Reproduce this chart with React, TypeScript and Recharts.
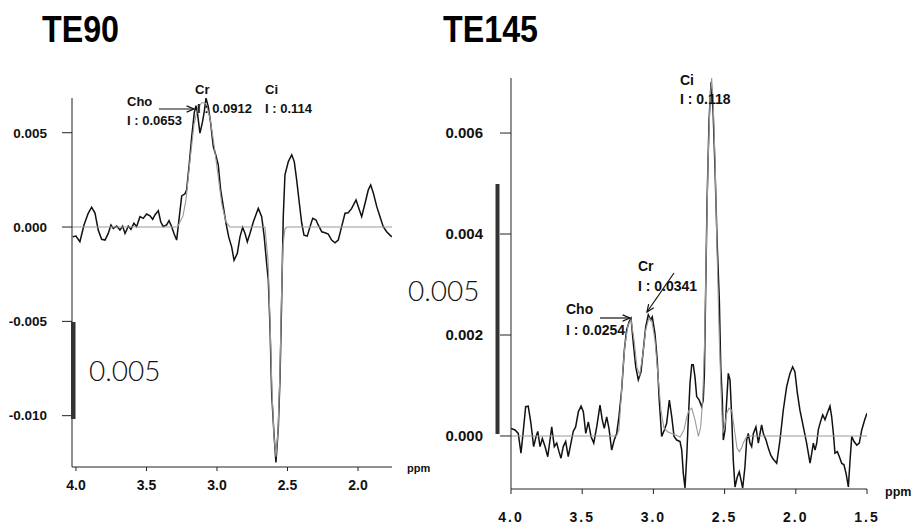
import { LineChart, Line, XAxis, YAxis } from "recharts";

// TE90 panel: measured spectrum (ppm, intensity)
const te90Ppm = [
  4.023, 4.0, 3.972, 3.943, 3.913, 3.889, 3.865, 3.842, 3.818, 3.794, 3.771, 3.752, 3.735, 3.711, 3.688,
  3.669, 3.652, 3.629, 3.61, 3.589, 3.57, 3.546, 3.523, 3.499, 3.475, 3.456, 3.44, 3.416, 3.399, 3.381,
  3.357, 3.34, 3.321, 3.305, 3.286, 3.267, 3.25, 3.227, 3.215, 3.196, 3.179, 3.161, 3.149, 3.137, 3.121,
  3.104, 3.09, 3.078, 3.062, 3.045, 3.026, 3.009, 2.991, 2.974, 2.955, 2.936, 2.917, 2.896, 2.879, 2.856,
  2.837, 2.818, 2.801, 2.785, 2.766, 2.742, 2.707, 2.683, 2.665, 2.648, 2.636, 2.624, 2.612, 2.596, 2.582,
  2.565, 2.553, 2.541, 2.53, 2.518, 2.494, 2.47, 2.452, 2.435, 2.416, 2.399, 2.383, 2.36, 2.34, 2.321,
  2.298, 2.282, 2.257, 2.234, 2.211, 2.187, 2.163, 2.14, 2.116, 2.092, 2.069, 2.045, 2.014, 1.998, 1.974,
  1.95, 1.927, 1.91, 1.891, 1.867, 1.844, 1.821, 1.797, 1.761,
];
const te90Signal = [
  -0.00052, -0.00048, -0.00078, 0.00011, 0.00073, 0.00105, 0.00074, -0.00016, -0.00065, -0.00069, -0.00034, 0.00011, -0.00007, 0.00005, -0.00016,
  0.00005, -0.00034, 0.00005, -0.00012, 0.0002, 0.00002, 0.00055, 0.00046, 0.00069, 0.00059, 0.00041, 0.00064, 0.00087, 0.00028, 0.00002,
  0.00011, 0.00034, 0.00002, -0.00034, -0.00069, 0.00055, 0.00165, 0.00176, 0.00197, 0.00339, 0.0048, 0.00605, 0.00644, 0.00596, 0.00498,
  0.00552, 0.00613, 0.00684, 0.0064, 0.00552, 0.00427, 0.00383, 0.0033, 0.00197, 0.00108, 0.0002, -0.00052, -0.00105, -0.00176, -0.0014,
  -0.00052, -0.00002, -0.00034, -0.00078, -0.00034, 0.00028, 0.00099, 0.00055, -0.00052, -0.00193, -0.00282, -0.0053, -0.00883, -0.01096, -0.01248,
  -0.01062, -0.00796, -0.00371, 0.00055, 0.00277, 0.00347, 0.00383, 0.00347, 0.0025, 0.00126, 0.0002, -0.00043, -0.00048, 0.00002, 0.00046,
  0.00037, 0.00011, -0.00025, -0.0003, -0.00037, -0.00069, -0.00084, -0.00069, 0.00002, 0.00073, 0.00076, 0.00099, 0.00144, 0.00108, 0.00055,
  0.00126, 0.00197, 0.00223, 0.00179, 0.00108, 0.00055, 0.00002, -0.00025, -0.00052,
];
// TE90 panel: fitted curve
const te90FitPpm = [
  4.028, 3.28, 3.241, 3.22, 3.191, 3.163, 3.135, 3.106, 3.078, 3.05, 3.021, 2.993, 2.965, 2.936, 2.908,
  2.66, 2.638, 2.624, 2.61, 2.596, 2.582, 2.567, 2.553, 2.543, 2.532, 2.518, 2.504, 1.759,
];
const te90Fit = [
  0, 0, 0.00059, 0.00144, 0.00356, 0.00543, 0.00633, 0.0066, 0.00654, 0.0058, 0.00436, 0.00277, 0.00117, 0.00027, 0,
  0, -0.00176, -0.00495, -0.00867, -0.01106, -0.01218, -0.0108, -0.00761, -0.00388, -0.00096, -0.00011, 0, 0,
];

// TE145 panel: measured spectrum
const te145Ppm = [
  4.0, 3.972, 3.949, 3.93, 3.914, 3.897, 3.879, 3.86, 3.841, 3.824, 3.812, 3.796, 3.78, 3.761, 3.742,
  3.726, 3.714, 3.696, 3.679, 3.663, 3.649, 3.633, 3.616, 3.598, 3.579, 3.563, 3.546, 3.527, 3.508, 3.492,
  3.475, 3.457, 3.438, 3.419, 3.398, 3.375, 3.359, 3.345, 3.328, 3.312, 3.293, 3.275, 3.258, 3.242, 3.223,
  3.204, 3.188, 3.171, 3.157, 3.141, 3.124, 3.106, 3.087, 3.071, 3.054, 3.036, 3.019, 3.008, 2.989, 2.973,
  2.959, 2.942, 2.923, 2.907, 2.888, 2.871, 2.855, 2.836, 2.813, 2.801, 2.79, 2.778, 2.766, 2.755, 2.743,
  2.731, 2.72, 2.708, 2.696, 2.678, 2.661, 2.65, 2.642, 2.634, 2.623, 2.609, 2.595, 2.581, 2.567, 2.553,
  2.537, 2.527, 2.516, 2.509, 2.497, 2.485, 2.474, 2.462, 2.45, 2.439, 2.427, 2.411, 2.397, 2.385, 2.373,
  2.357, 2.345, 2.334, 2.322, 2.31, 2.298, 2.28, 2.263, 2.251, 2.24, 2.228, 2.209, 2.193, 2.176, 2.158,
  2.134, 2.111, 2.088, 2.064, 2.041, 2.022, 2.006, 1.989, 1.971, 1.947, 1.924, 1.9, 1.888, 1.877, 1.865,
  1.853, 1.842, 1.83, 1.811, 1.795, 1.779, 1.76, 1.748, 1.736, 1.725, 1.708, 1.694, 1.678, 1.662, 1.647,
  1.631, 1.619, 1.607, 1.591, 1.572, 1.554, 1.537, 1.516, 1.5,
];
const te145Signal = [
  0.00015, 0.00012, 0.00005, -0.00034, 0.00009, 0.00058, 0.00059, 0.00025, -0.00021, -0.00001, 0.00009, -0.00021, -0.00005, -0.00021, -0.00041,
  -0.00008, 0.00018, -0.00021, -0.00014, -0.00031, -0.00044, -0.00021, -0.00011, -0.00041, -0.00014, 0.00009, 0.00018, 0.00048, 0.00059, 0.00048,
  0.00005, 0.00028, -0.00001, -0.00014, 0.00018, 0.00061, 0.00032, 0.00015, 0.00038, 0.00015, -0.00028, -0.00008, 0.00005, 0.00038, 0.00091,
  0.0017, 0.0021, 0.00226, 0.00233, 0.00184, 0.00137, 0.00111, 0.00127, 0.0017, 0.00216, 0.0024, 0.0023, 0.00236, 0.00203, 0.0015,
  0.00071, -0.00001, 0.00012, 0.00025, 0.00071, 0.00038, -0.00001, -0.00008, -0.00011, -0.00028, -0.00074, -0.00103, -0.00041, 0.00032, 0.00104,
  0.00141, 0.00141, 0.00117, 0.00078, 0.00071, 0.00058, 0.00071, 0.00124, 0.00269, 0.00467, 0.00626, 0.00701, 0.00645, 0.00527, 0.00388,
  0.00269, 0.00137, 0.00071, -0.00008, 0.00012, 0.00071, 0.00124, 0.00111, 0.00038, -0.00048, -0.00101, -0.00081, -0.00071, -0.00087, -0.00103,
  -0.00061, -0.00008, 0.00005, -0.00014, -0.00021, 0.00005, 0.00018, -0.00014, 0.00005, 0.00022, 0.00005, -0.00008, -0.00024, -0.00038, -0.00046,
  -0.00054, -0.00008, 0.00051, 0.00098, 0.00124, 0.00137, 0.00127, 0.00085, 0.00051, 0.00018, -0.00014, -0.00054, -0.00034, -0.00014, -0.00028,
  -0.00014, 0.00012, 0.00025, 0.00042, 0.00032, 0.00045, 0.00059, 0.00038, 0.00005, -0.00034, -0.00031, -0.00041, -0.00054, -0.00057, -0.00074,
  -0.00101, -0.00048, -0.00001, -0.00011, -0.00018, -0.00014, 0.00012, 0.00032, 0.00045,
];
// TE145 panel: fitted curve
const te145FitPpm = [
  4.0, 3.258, 3.242, 3.228, 3.214, 3.2, 3.178, 3.157, 3.136, 3.115, 3.096, 3.075, 3.054, 3.031, 3.01,
  2.989, 2.968, 2.947, 2.926, 2.898, 2.862, 2.827, 2.813, 2.785, 2.766, 2.75, 2.731, 2.708, 2.684, 2.668,
  2.654, 2.64, 2.63, 2.616, 2.602, 2.591, 2.581, 2.567, 2.553, 2.539, 2.525, 2.513, 2.501, 2.485, 2.469,
  2.45, 2.427, 2.413, 2.397, 2.381, 2.369, 2.345, 2.329, 1.5,
];
const te145Fit = [
  0, 0, 0.00012, 0.00071, 0.00131, 0.0018, 0.0022, 0.0023, 0.0019, 0.00135, 0.00121, 0.0016, 0.0021, 0.00234, 0.00226,
  0.0019, 0.00121, 0.00051, 0.00016, 0.00008, 0.00004, 0, -0.00002, 0.00012, 0.00038, 0.00051, 0.00055, 0.00032, -0.00001, 0.00018,
  0.00071, 0.0019, 0.00348, 0.00546, 0.00665, 0.00709, 0.00665, 0.00546, 0.00368, 0.0021, 0.00091, 0.00005, 0.00016, 0.00045, 0.00055,
  0.00051, 0.00005, -0.00024, -0.00031, -0.00024, -0.00014, -0.00001, 0, 0,
];

const te90Yticks = [-0.01, -0.005, 0, 0.005];
const te90Xticks = [4.0, 3.5, 3.0, 2.5, 2.0];
const te145Yticks = [0, 0.002, 0.004, 0.006];
const te145Xticks = [4.0, 3.5, 3.0, 2.5, 2.0, 1.5];

const zip = (xs: number[], ys: number[]) => xs.map((ppm, i) => ({ ppm, v: ys[i] }));

const FONT = "'Liberation Sans', Arial, sans-serif";
const AXIS = "#222";

function arrow(x1: number, y1: number, x2: number, y2: number) {
  const a = Math.atan2(y2 - y1, x2 - x1);
  const L = 8;
  const s = 0.4;
  const p1 = [x2 - L * Math.cos(a - s), y2 - L * Math.sin(a - s)];
  const p2 = [x2 - L * Math.cos(a + s), y2 - L * Math.sin(a + s)];
  return (
    <g stroke="#111" strokeWidth={1.2} fill="none">
      <line x1={x1} y1={y1} x2={x2} y2={y2} />
      <polyline points={`${p1[0]},${p1[1]} ${x2},${y2} ${p2[0]},${p2[1]}`} />
    </g>
  );
}

export default function App() {
  const lblL = { fontFamily: FONT, fontSize: 13, fontWeight: 700, fill: "#111" };
  const lblR = { fontFamily: FONT, fontSize: 14, fontWeight: 700, fill: "#111" };
  return (
    <div style={{ position: "absolute", left: 0, top: 0, width: 916, height: 525, background: "#fff" }}>
      <div style={{ position: "absolute", left: 0, top: 0 }}>
        <LineChart width={420} height={500} margin={{ top: 98, right: 28, bottom: 3, left: 0 }}>
          <XAxis
            type="number"
            dataKey="ppm"
            domain={[1.759, 4.028]}
            reversed
            ticks={te90Xticks}
            tickFormatter={(v: number) => v.toFixed(1)}
            tickSize={4}
            tickMargin={9}
            height={30}
            allowDataOverflow
            stroke={AXIS}
            tick={{ fill: "#111", fontSize: 14, fontWeight: 700, fontFamily: FONT }}
          />
          <YAxis
            type="number"
            domain={[-0.01272, 0.00684]}
            ticks={te90Yticks}
            tickFormatter={(v: number) => v.toFixed(3)}
            tickSize={10}
            tickMargin={15}
            width={72}
            allowDataOverflow
            stroke={AXIS}
            tick={{ fill: "#111", fontSize: 13.5, fontWeight: 700, fontFamily: FONT }}
          />
          <Line data={zip(te90Ppm, te90Signal)} dataKey="v" type="linear" dot={false} stroke="#111" strokeWidth={1.5} isAnimationActive={false} />
          <Line data={zip(te90FitPpm, te90Fit)} dataKey="v" type="linear" dot={false} stroke="#9a9a9a" strokeWidth={1.1} isAnimationActive={false} />
        </LineChart>
      </div>
      <div style={{ position: "absolute", left: 400, top: 0 }}>
        <LineChart width={516} height={525} margin={{ top: 78, right: 49, bottom: 6, left: 0 }}>
          <XAxis
            type="number"
            dataKey="ppm"
            domain={[1.5, 4.0]}
            reversed
            ticks={te145Xticks}
            tickFormatter={(v: number) => v.toFixed(1)}
            tickSize={5}
            tickMargin={18}
            height={30}
            allowDataOverflow
            stroke={AXIS}
            tick={{ fill: "#111", fontSize: 14, fontWeight: 700, fontFamily: FONT, letterSpacing: 2 }}
          />
          <YAxis
            type="number"
            domain={[-0.00105, 0.00709]}
            ticks={te145Yticks}
            tickFormatter={(v: number) => v.toFixed(3)}
            tickSize={11}
            tickMargin={17}
            width={111}
            allowDataOverflow
            stroke={AXIS}
            tick={{ fill: "#111", fontSize: 15, fontWeight: 700, fontFamily: FONT }}
          />
          <Line data={zip(te145Ppm, te145Signal)} dataKey="v" type="linear" dot={false} stroke="#111" strokeWidth={1.5} isAnimationActive={false} />
          <Line data={zip(te145FitPpm, te145Fit)} dataKey="v" type="linear" dot={false} stroke="#9a9a9a" strokeWidth={1.1} isAnimationActive={false} />
        </LineChart>
      </div>
      <svg width={916} height={525} style={{ position: "absolute", left: 0, top: 0, pointerEvents: "none" }}>
        <text x={42} y={42} textLength={77} lengthAdjust="spacingAndGlyphs" style={{ fontFamily: FONT, fontSize: 37, fontWeight: 700 }} fill="#000">TE90</text>
        <text x={443} y={42} textLength={95} lengthAdjust="spacingAndGlyphs" style={{ fontFamily: FONT, fontSize: 37, fontWeight: 700 }} fill="#000">TE145</text>

        {/* TE90 annotations */}
        <text x={127} y={106} style={lblL}>Cho</text>
        <text x={127} y={125} style={lblL}>I : 0.0653</text>
        {arrow(159, 109, 194, 109)}
        <text x={195} y={94} style={lblL}>Cr</text>
        <text x={197} y={113} style={lblL}>I : 0.0912</text>
        <text x={265} y={94} style={lblL}>Ci</text>
        <text x={265} y={113} style={lblL}>I : 0.114</text>
        <text x={407} y={472} style={{ ...lblL, fontSize: 11 }}>ppm</text>
        <rect x={71} y={322} width={4.5} height={97} fill="#333" />
        <text x={89} y={381} style={{ fontFamily: "Lato, 'Open Sans', sans-serif", fontSize: 28, fontWeight: 300 }} fill="#111">0.005</text>

        {/* TE145 annotations */}
        <text x={680} y={85} style={lblR}>Ci</text>
        <text x={680} y={104} style={lblR}>I : 0.118</text>
        <text x={638} y={271} style={lblR}>Cr</text>
        <text x={638} y={291} style={lblR}>I : 0.0341</text>
        {arrow(674, 273, 647, 312)}
        <text x={566} y={314} style={lblR}>Cho</text>
        <text x={566} y={335} style={lblR}>I : 0.0254</text>
        {arrow(600, 318, 630, 318)}
        <text x={885} y={496} style={{ ...lblR, fontSize: 12.5 }}>ppm</text>
        <rect x={495.5} y={184} width={4} height={250} fill="#333" />
        <text x={408} y={301} style={{ fontFamily: "Lato, 'Open Sans', sans-serif", fontSize: 28, fontWeight: 300 }} fill="#111">0.005</text>
      </svg>
    </div>
  );
}
